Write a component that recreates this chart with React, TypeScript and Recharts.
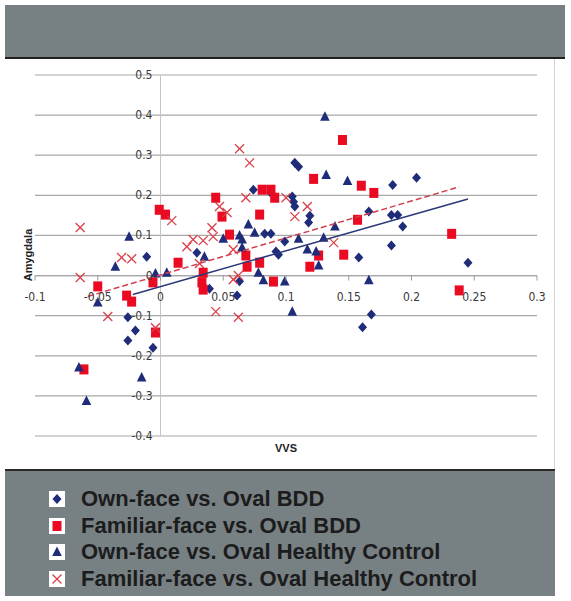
import { ScatterChart, Scatter, XAxis, YAxis, CartesianGrid, ReferenceLine } from 'recharts';

// VVS (x) vs Amygdala (y)
const ownFaceBDD = [
  [-0.026, -0.104], [-0.02, -0.137], [-0.026, -0.162], [-0.006, -0.18], [-0.011, 0.047],
  [0.029, 0.057], [0.039, -0.033], [0.061, -0.05], [0.063, -0.014], [0.074, 0.214],
  [0.083, 0.104], [0.088, 0.104], [0.088, 0.206], [0.092, 0.06], [0.094, 0.052],
  [0.099, 0.085], [0.105, 0.197], [0.106, 0.184], [0.107, 0.172], [0.107, 0.281],
  [0.11, 0.271], [0.119, 0.149], [0.118, 0.132], [0.166, 0.16], [0.184, 0.151],
  [0.189, 0.151], [0.193, 0.122], [0.185, 0.226], [0.204, 0.244], [0.158, 0.045],
  [0.184, 0.075], [0.245, 0.032], [0.168, -0.097], [0.161, -0.129],
];

const familiarFaceBDD = [
  [-0.061, -0.234], [-0.05, -0.027], [-0.027, -0.05], [-0.023, -0.065], [-0.006, -0.017],
  [-0.004, -0.142], [-0.001, 0.164], [0.004, 0.152], [0.014, 0.032], [0.034, 0.007],
  [0.033, -0.017], [0.034, -0.035], [0.044, 0.194], [0.049, 0.147], [0.055, 0.102],
  [0.068, 0.05], [0.069, 0.022], [0.079, 0.032], [0.079, 0.152], [0.081, 0.214],
  [0.088, 0.214], [0.091, 0.194], [0.09, -0.015], [0.122, 0.241], [0.145, 0.338],
  [0.16, 0.224], [0.17, 0.206], [0.157, 0.139], [0.126, 0.05], [0.146, 0.052],
  [0.119, 0.022], [0.232, 0.104], [0.238, -0.037],
];

const ownFaceHC = [
  [-0.065, -0.229], [-0.059, -0.313], [-0.015, -0.254], [-0.05, -0.067], [-0.036, 0.022],
  [-0.025, 0.097], [-0.004, 0.005], [0.005, 0.007], [0.035, 0.047], [0.05, 0.092],
  [0.063, 0.1], [0.065, 0.09], [0.065, 0.07], [0.07, 0.127], [0.075, 0.107],
  [0.078, 0.007], [0.082, -0.012], [0.099, -0.015], [0.105, -0.09], [0.11, 0.092],
  [0.117, 0.065], [0.124, 0.06], [0.126, 0.025], [0.13, 0.094], [0.139, 0.122],
  [0.131, 0.396], [0.132, 0.251], [0.149, 0.236], [0.166, -0.012],
];

const familiarFaceHC = [
  [-0.064, 0.12], [-0.064, -0.005], [-0.042, -0.102], [-0.031, 0.045], [-0.023, 0.042],
  [-0.004, -0.13], [0.009, 0.137], [0.021, 0.072], [0.026, 0.09], [0.031, 0.03],
  [0.034, 0.087], [0.041, 0.119], [0.042, 0.097], [0.047, 0.172], [0.053, 0.157],
  [0.063, 0.316], [0.071, 0.281], [0.068, 0.194], [0.058, 0.065], [0.058, -0.01],
  [0.062, 0.0], [0.044, -0.09], [0.062, -0.104], [0.1, 0.194], [0.107, 0.147],
  [0.117, 0.172], [0.138, 0.082],
];

// linear trendlines, end points as drawn
const trendOwnBDD = [[-0.022, -0.047], [0.245, 0.191]];
const trendFamiliarBDD = [[-0.058, -0.052], [0.238, 0.221]];

const xTicks = [-0.1, -0.05, 0, 0.05, 0.1, 0.15, 0.2, 0.25, 0.3];
const yTicks = [-0.4, -0.3, -0.2, -0.1, 0, 0.1, 0.2, 0.3, 0.4, 0.5];

const legendNames = [
  'Own-face vs. Oval BDD',
  'Familiar-face vs. Oval BDD',
  'Own-face vs. Oval Healthy Control',
  'Familiar-face vs. Oval Healthy Control',
];

const NAVY = '#1f2c7a';
const RED = '#ea0a22';
const XRED = '#d9404a';
const PANEL = '#778083';

const X_MIN = -0.1, X_MAX = 0.3, Y_MIN = -0.4, Y_MAX = 0.5;
// axes take 1px each, the rest is margin
const MARGIN = { top: 75, right: 34, bottom: 33, left: 34 };
const CHART_W = 571, CHART_H = 470;
const PLOT_LEFT = MARGIN.left + 1;
const PLOT_W = CHART_W - PLOT_LEFT - MARGIN.right;
const PLOT_H = CHART_H - MARGIN.top - MARGIN.bottom - 1;
// axes cross at zero, as in the original
const ZERO_X = PLOT_LEFT + PLOT_W * (0 - X_MIN) / (X_MAX - X_MIN);
const ZERO_Y = MARGIN.top + PLOT_H * Y_MAX / (Y_MAX - Y_MIN);

const toPoints = (arr: number[][]) => arr.map(([x, y]) => ({ x, y }));

const tickFont = { fontFamily: '"Liberation Sans Narrow", "DejaVu Sans Condensed", sans-serif', fontSize: 12, fill: '#3a3a3a' };

const XTick = ({ x, payload }: any) => (
  <g>
    <line x1={x} x2={x} y1={ZERO_Y} y2={ZERO_Y + 5} stroke="#9a9a9a" />
    <text x={x} y={ZERO_Y + 25} textAnchor="middle" {...tickFont}>{String(payload.value)}</text>
  </g>
);

const YTick = ({ y, payload }: any) => (
  <text x={ZERO_X - 8} y={y + 4} textAnchor="end" {...tickFont}>{String(payload.value)}</text>
);

const Diamond = ({ cx, cy }: any) => (
  <polygon points={`${cx},${cy - 5} ${cx + 4.5},${cy} ${cx},${cy + 5} ${cx - 4.5},${cy}`} fill={NAVY} />
);
const Square = ({ cx, cy }: any) => (
  <rect x={cx - 4.5} y={cy - 5} width={9} height={10} fill={RED} />
);
const Triangle = ({ cx, cy }: any) => (
  <polygon points={`${cx},${cy - 5.5} ${cx + 4.8},${cy + 4} ${cx - 4.8},${cy + 4}`} fill={NAVY} />
);
const Cross = ({ cx, cy }: any) => (
  <g stroke={XRED} strokeWidth={1.3}>
    <line x1={cx - 4.5} y1={cy - 4.5} x2={cx + 4.5} y2={cy + 4.5} />
    <line x1={cx - 4.5} y1={cy + 4.5} x2={cx + 4.5} y2={cy - 4.5} />
  </g>
);
const NoDot = () => <g />;

const legendShapes = [Diamond, Square, Triangle, Cross];

export default function App() {
  return (
    <div style={{ position: 'absolute', left: 0, top: 0, width: 571, height: 601, background: '#fff', overflow: 'hidden' }}>
      <div style={{ position: 'absolute', left: 5, top: 5, width: 560, height: 52, background: PANEL, borderBottom: '2px solid #202020' }} />
      <div style={{ position: 'absolute', left: 554, top: 59, width: 1, height: 410, background: '#d4d4d4' }} />

      <div style={{ position: 'absolute', left: 0, top: 0 }}>
        <ScatterChart width={CHART_W} height={CHART_H} margin={MARGIN}>
          <CartesianGrid vertical={false} stroke="#a8a8a8" strokeWidth={1.2} />
          <XAxis type="number" dataKey="x" domain={[X_MIN, X_MAX]} ticks={xTicks} height={1}
            axisLine={false} tickLine={false} tick={(p: any) => <XTick {...p} />} interval={0} allowDataOverflow />
          <YAxis type="number" dataKey="y" domain={[Y_MIN, Y_MAX]} ticks={yTicks} width={1}
            axisLine={false} tickLine={false} tick={(p: any) => <YTick {...p} />} interval={0} allowDataOverflow />
          <ReferenceLine x={0} stroke="#c4c4c4" />
          <ReferenceLine y={0} stroke="#a8a8a8" strokeWidth={1.2} />
          <Scatter name={legendNames[0]} data={toPoints(ownFaceBDD)} shape={Diamond} isAnimationActive={false} />
          <Scatter name={legendNames[1]} data={toPoints(familiarFaceBDD)} shape={Square} isAnimationActive={false} />
          <Scatter name={legendNames[2]} data={toPoints(ownFaceHC)} shape={Triangle} isAnimationActive={false} />
          <Scatter name={legendNames[3]} data={toPoints(familiarFaceHC)} shape={Cross} isAnimationActive={false} />
          <Scatter data={toPoints(trendOwnBDD)} shape={NoDot} line={{ stroke: '#2a3878', strokeWidth: 1.5 }}
            legendType="none" isAnimationActive={false} />
          <Scatter data={toPoints(trendFamiliarBDD)} shape={NoDot}
            line={{ stroke: '#d2404e', strokeWidth: 1.5, strokeDasharray: '6 3' }}
            legendType="none" isAnimationActive={false} />
          <text x={28} y={255} transform="rotate(-90 28 255)" textAnchor="middle" dominantBaseline="central"
            style={{ fontFamily: '"Liberation Sans", Arial, sans-serif', fontSize: 11, fontWeight: 700, fill: '#222' }}>
            Amygdala
          </text>
          <text x={286} y={452} textAnchor="middle"
            style={{ fontFamily: '"Liberation Sans", Arial, sans-serif', fontSize: 11, fontWeight: 700, fill: '#222' }}>
            VVS
          </text>
        </ScatterChart>
      </div>

      <div style={{ position: 'absolute', left: 5, top: 469, width: 550, height: 125, background: PANEL, borderTop: '2px solid #2a2a2a' }}>
        {legendNames.map((name, i) => {
          const Shape = legendShapes[i];
          return (
            <div key={name} style={{ position: 'absolute', left: 44, top: 15 + i * 26.5, height: 26, display: 'flex', alignItems: 'center' }}>
              <svg width={16} height={16} style={{ background: '#fff', display: 'block' }}>
                <Shape cx={8} cy={8} />
              </svg>
              <span style={{ marginLeft: 16, fontFamily: '"Liberation Sans", Arial, sans-serif', fontWeight: 700, fontSize: 22, color: '#1c1c1c', whiteSpace: 'nowrap' }}>
                {name}
              </span>
            </div>
          );
        })}
      </div>
    </div>
  );
}
